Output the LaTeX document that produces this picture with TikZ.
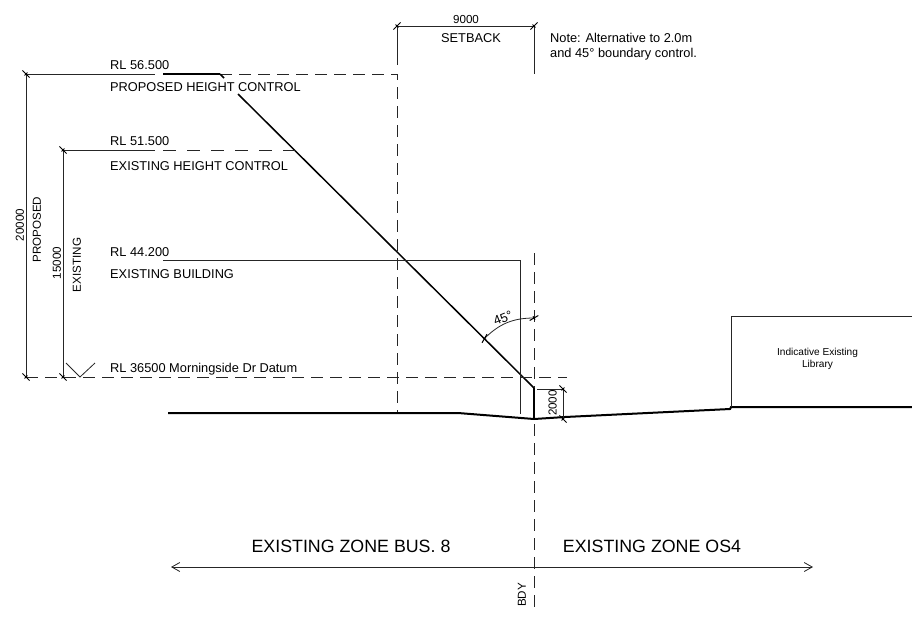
\documentclass[tikz,border=0pt]{standalone}
\usepackage{fontspec}
\setmainfont{Liberation Sans}
\usetikzlibrary{arrows.meta, calc}
\tikzset{
    % thin lines, drawn in pixel units of the section
    thinline/.style = {line width=0.8pt, black!85},
    heavyline/.style = {line width=1.5pt, black},
    groundline/.style = {line width=2pt, black},
    dashline/.style = {line width=0.8pt, black!85, dash pattern=on 12pt off 7pt},
    level/.style = {inner sep=0pt, anchor=base west, font=\fontsize{12.8}{14}\selectfont},
    dimtext/.style = {inner sep=0pt, font=\fontsize{11.6}{13}\selectfont},
    zone/.style = {inner sep=0pt, font=\fontsize{17.8}{19}\selectfont},
    smalltext/.style = {inner sep=0pt, align=center, font=\fontsize{10.1}{12}\selectfont},
    ticktip/.style = {line width=1pt, black}
}
% dimension tick on a named coordinate, at a given slant
\newcommand{\dimtick}[2]{
    \draw[ticktip, rotate around={#2:(#1)}] ($(#1)+(-5,0)$) -- ($(#1)+(5,0)$) ($(#1)+(0,-2)$) -- ($(#1)+(0,2)$);
}
\begin{document}
\begin{tikzpicture}[x=1pt, y=-1pt]
\useasboundingbox (0,0) rectangle (912,619);

% levels on the left
\coordinate (propTop) at (26,74);
\coordinate (propBase) at (26,377);
\coordinate (existTop) at (63,150);
\coordinate (existBase) at (63,377);
\coordinate (datumEnd) at (567,377);
\coordinate (setLeft) at (397,26);
\coordinate (setRight) at (534,26);
\coordinate (wallTop) at (534,388);
\coordinate (wallBase) at (534,419);
\coordinate (dimTop) at (563,389);
\coordinate (dimBase) at (563,419);
\coordinate (arcLeft) at (484.5,338.5);
\coordinate (arcRight) at (534,318);

\node[level] (rlprop) at (110,69) {RL 56.500};
\node[level] (labelprop) at (110,91) {PROPOSED HEIGHT CONTROL};
\node[level] (rlexist) at (110,145) {RL 51.500};
\node[level] (labelexist) at (110,170) {EXISTING HEIGHT CONTROL};
\node[level] (rlbuild) at (110,256) {RL 44.200};
\node[level] (labelbuild) at (110,278) {EXISTING BUILDING};
\node[level] (rldatum) at (110,372) {RL 36500 Morningside Dr Datum};

% proposed height line
\draw[thinline] (propTop) -- (155,74);
\draw[heavyline] (163,74) -- (220,74);
\draw[dashline] (220,74) -- (397,74) -- (397,413);
\draw[heavyline] (220,74) -- (224,78);
\draw[heavyline] (238,94) -- (wallTop);
\draw[thinline] (propTop) -- (propBase);

% existing height line
\draw[thinline] (existTop) -- (155,150);
\draw[dashline, line width=1pt, dash pattern=on 12.5pt off 11.5pt] (163,150) -- (297,150);
\draw[thinline] (existTop) -- (existBase);

% existing building
\draw[thinline] (163,260) -- (520,260) -- (520,414);

% datum
\draw[dashline] (propBase) -- (datumEnd);
\draw[thinline] (66,363) -- (80,377) -- (95,363);

% setback
\draw[thinline] (setLeft) -- (setRight);
\draw[thinline] (setLeft) -- (397,65);
\draw[thinline] (setRight) -- (534,74);
\node[dimtext] (setdim) at (466,20) {9000};
\node[level, anchor=center] (setlabel) at (471,38) {SETBACK};
\node[level, align=left, font=\fontsize{12.8}{15}\selectfont] (setnote) at (550,57) {Note: Alternative to 2.0m\\and 45° boundary control.};

% boundary and ground
\draw[dashline] (534,253) -- (534,610);
\draw[groundline] (168,413) -- (458,413) -- (wallBase) -- (565,417) -- (730,409) -- (731,407) -- (912,407);
\draw[heavyline] (wallTop) -- (wallBase);

% 2000 dimension
\draw[thinline] (537,389) -- (dimTop) -- (dimBase);
\node[dimtext, rotate=90] (walldim) at (552.5,403) {2000};

% 45 degree arc
\draw[thinline] (arcLeft) to[bend left=22.5] (arcRight);
\node[level, anchor=center, rotate=22] (anglelabel) at (503,318) {45°};

% vertical dimensions
\node[dimtext, rotate=90] (propdim) at (20,225) {20000};
\node[dimtext, rotate=90] (proplabel) at (37,229.5) {PROPOSED};
\node[dimtext, rotate=90] (existdim) at (57,263) {15000};
\node[dimtext, rotate=90] (existlabel) at (77,265) {EXISTING};

\dimtick{propTop}{-45}
\dimtick{propBase}{-45}
\dimtick{existTop}{-45}
\dimtick{existBase}{-45}
\dimtick{setLeft}{45}
\dimtick{setRight}{45}
\dimtick{dimTop}{-45}
\dimtick{dimBase}{-45}
\dimtick{arcLeft}{60}
\dimtick{arcRight}{30}

% library
\draw[thinline] (731,407) -- (731,316) -- (912,316);
\node[smalltext] (library) at (817.5,358.5) {Indicative Existing\\Library};

% zones
\node[zone] (zonebus) at (351,546) {EXISTING ZONE BUS. 8};
\node[zone] (zoneos) at (652,546) {EXISTING ZONE OS4};
\coordinate (zoneLeft) at (171,567);
\coordinate (zoneRight) at (813,567);
\draw[thinline, {Straight Barb[length=8pt,width=9pt]}-{Straight Barb[length=8pt,width=9pt]}] (zoneLeft) -- (zoneRight);
\node[dimtext, rotate=90] (bdy) at (522,595) {BDY};

\end{tikzpicture}
\end{document}
